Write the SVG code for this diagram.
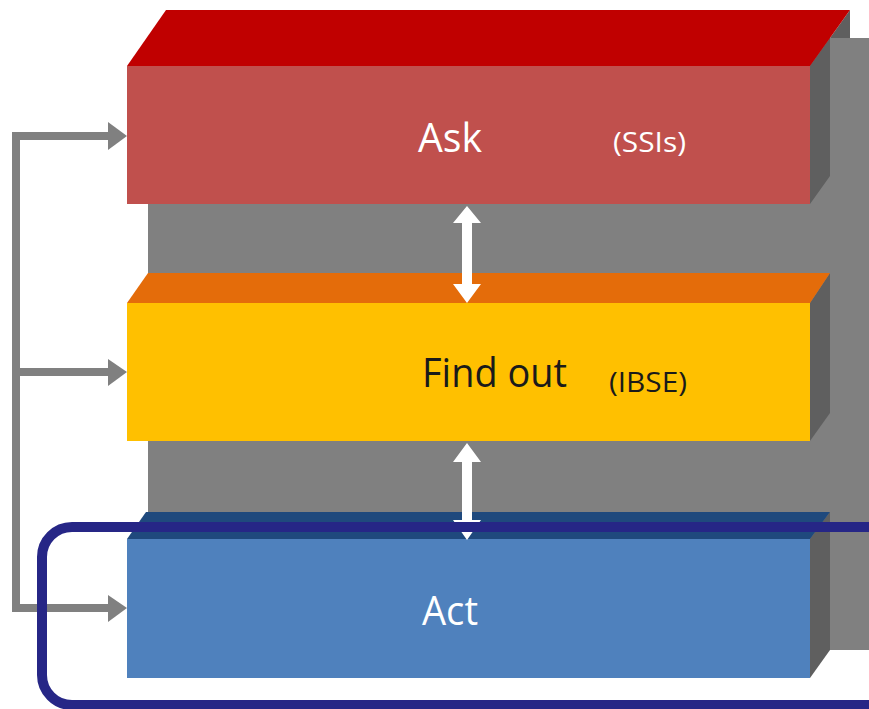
<svg xmlns="http://www.w3.org/2000/svg" width="869" height="709" viewBox="0 0 869 709">
<style>
.side{fill:#5f5f5f}
.big{font-family:"Open Sans","Liberation Sans",sans-serif;font-size:40px}
.small{font-family:"Open Sans","Liberation Sans",sans-serif;font-size:27px}
.conn{fill:none;stroke:#808080;stroke-width:8}
.dbl{fill:#ffffff}
</style>
<defs>
<marker id="gh" viewBox="0 0 19 27" refX="19" refY="13.5" markerWidth="19" markerHeight="27" markerUnits="userSpaceOnUse" orient="auto">
<path d="M0,0 L19,13.5 L0,27 Z" fill="#808080"/>
</marker>
</defs>
<rect width="869" height="709" fill="#ffffff"/>
<g id="back-panel">
<rect x="148" y="38" width="721" height="612" fill="#808080"/>
</g>
<g id="ask">
<polygon class="side" points="810,66 850,10 850,38 830,38 830,176 810,204"/>
<polygon points="127,66 166,10 850,10 810,66" fill="#c00000"/>
<rect x="127" y="66" width="683" height="138" fill="#c0504d"/>
<text class="big" x="418" y="152" fill="#ffffff" textLength="64" lengthAdjust="spacingAndGlyphs">Ask</text>
<text class="small" x="613" y="152" fill="#ffffff" textLength="73" lengthAdjust="spacingAndGlyphs">(SSIs)</text>
</g>
<g id="findout">
<polygon class="side" points="810,303 830,273 830,413 810,441"/>
<polygon points="127,303 148,273 830,273 810,303" fill="#e46c0a"/>
<rect x="127" y="303" width="683" height="138" fill="#ffc000"/>
<text class="big" x="422" y="387" fill="#1a1a1a" textLength="145" lengthAdjust="spacingAndGlyphs">Find out</text>
<text class="small" x="609" y="392" fill="#1a1a1a" textLength="78" lengthAdjust="spacingAndGlyphs">(IBSE)</text>
</g>
<g id="act">
<polygon class="side" points="810,539 830,512 830,650 810,678"/>
<polygon points="127,539 146,512 830,512 810,539" fill="#1f497d"/>
<rect x="127" y="539" width="683" height="139" fill="#4f81bd"/>
<text class="big" x="422" y="625" fill="#ffffff" textLength="56" lengthAdjust="spacingAndGlyphs">Act</text>
</g>
<g id="connectors">
<polyline class="conn" points="108,136 16,136 16,608 108,608"/>
<line class="conn" x1="16" y1="372" x2="108" y2="372"/>
<path d="M108,122 L127,136 L108,150 Z" fill="#808080"/>
<path d="M108,359 L127,372 L108,386 Z" fill="#808080"/>
<path d="M108,595 L127,608 L108,622 Z" fill="#808080"/>
<path class="dbl" d="M467,206 L481,223 L472,223 L472,284 L481,284 L467,303 L453,284 L462,284 L462,223 L453,223 Z"/>
<path class="dbl" d="M467,443 L481,462 L472,462 L472,520 L481,520 L467,540 L453,520 L462,520 L462,462 L453,462 Z"/>
</g>
<g id="highlight">
<rect x="42" y="527" width="900" height="178" rx="30" ry="30" fill="none" stroke="#262686" stroke-width="10"/>
</g>
</svg>
